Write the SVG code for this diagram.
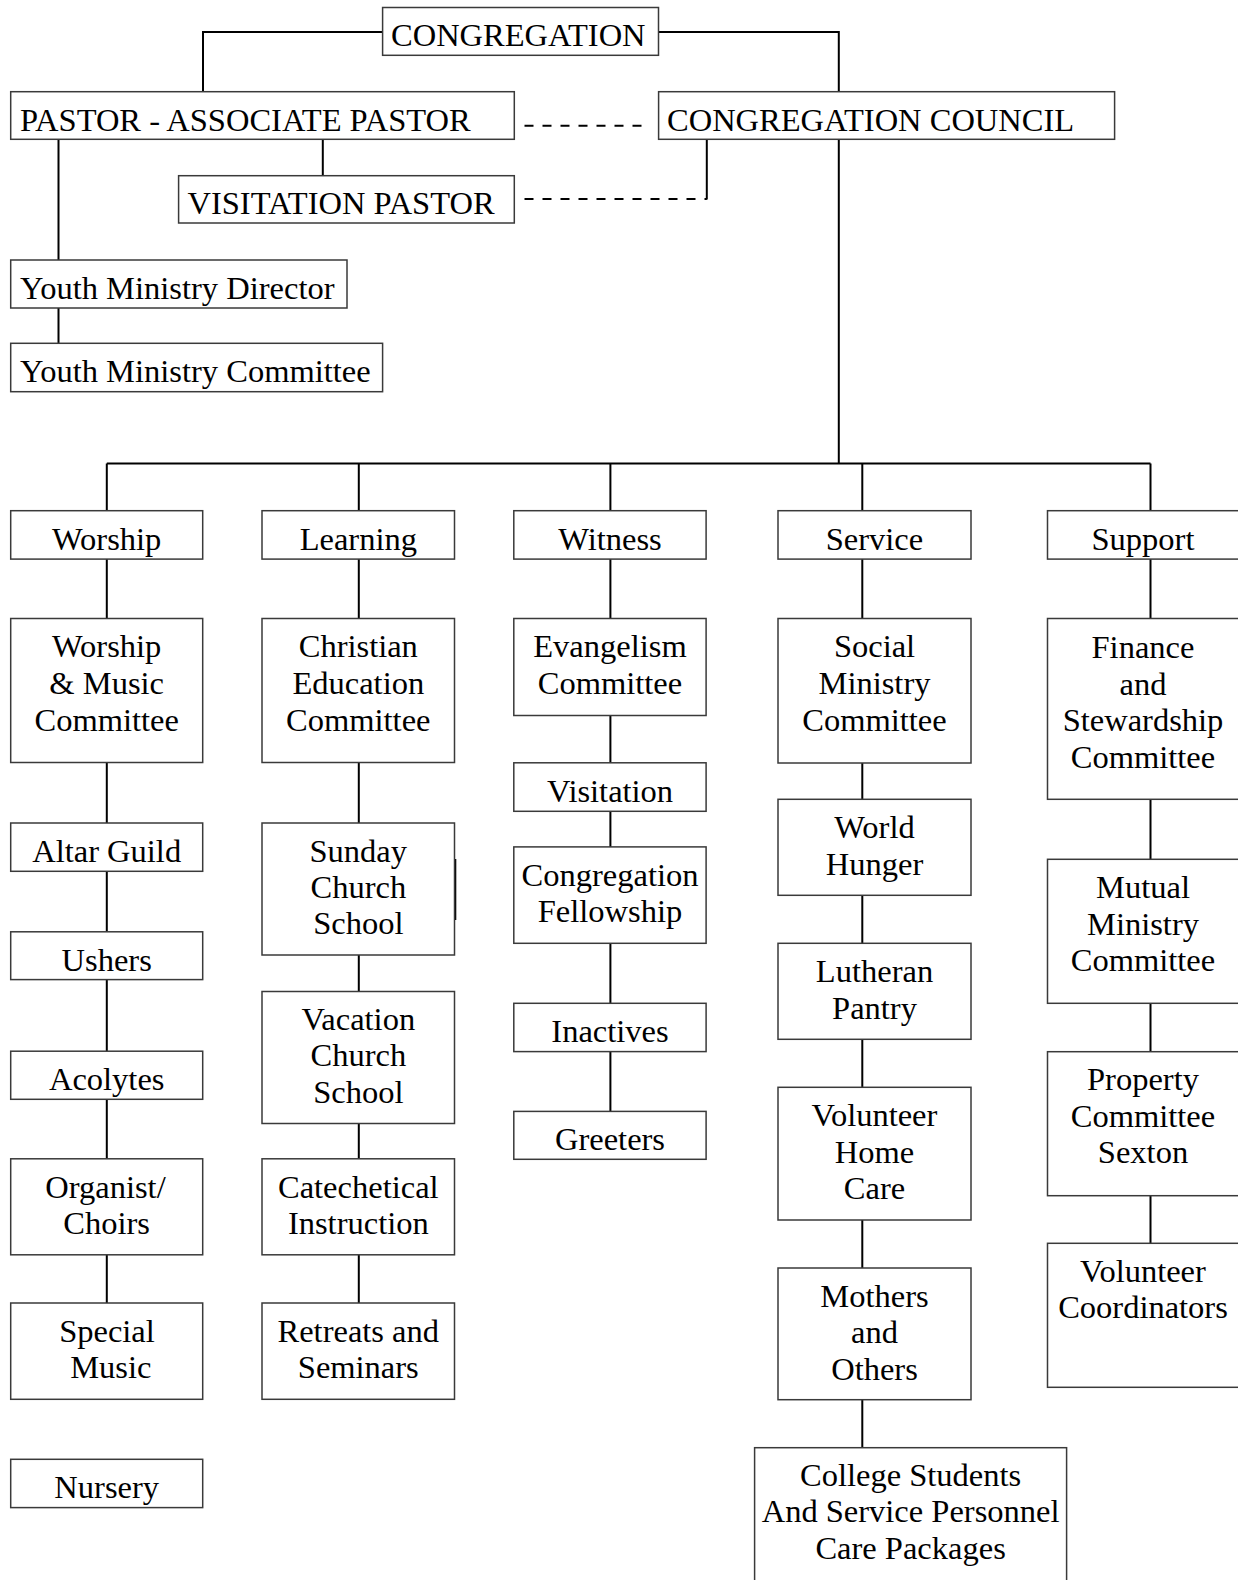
<svg xmlns="http://www.w3.org/2000/svg" width="1238" height="1580" viewBox="0 0 1238 1580">
<style>
.box{fill:#fff;stroke:#3a3a3a;stroke-width:1.5}
.t{font-family:"Liberation Serif","Times New Roman",serif;font-size:32.5px;fill:#000}
.c{text-anchor:middle}
.ln{fill:none;stroke:#000;stroke-width:2}
.dash{fill:none;stroke:#000;stroke-width:2;stroke-dasharray:9 9}
</style>
<rect width="1238" height="1580" fill="#fff"/>
<g id="connectors">
<polyline class="ln" points="382.6,32 203,32 203,91.7"/>
<polyline class="ln" points="658.5,32 838.8,32 838.8,91.7"/>
<line class="ln" x1="838.8" y1="139.3" x2="838.8" y2="463.5"/>
<line class="ln" x1="106.8" y1="463.5" x2="1150.5" y2="463.5"/>
<line class="ln" x1="58.5" y1="139.3" x2="58.5" y2="260"/>
<line class="ln" x1="322.8" y1="139.3" x2="322.8" y2="175.7"/>
<line class="ln" x1="58.5" y1="308" x2="58.5" y2="343.3"/>
<line class="ln" x1="706.8" y1="139.3" x2="706.8" y2="199.5"/>
<line class="dash" x1="524.5" y1="125.7" x2="645" y2="125.7"/>
<line class="dash" x1="524.5" y1="199" x2="706.8" y2="199"/>
<path class="ln" d="M106.8 463.5V510.7M106.8 559.1V618.5M106.8 762.5V823M106.8 871.3V931.8M106.8 979.6V1051.2M106.8 1099.3V1158.8M106.8 1254.8V1303"/>
<path class="ln" d="M358.8 463.5V510.7M358.8 559.1V618.5M358.8 762.5V823M358.8 955V991.5M358.8 1123.5V1158.8M358.8 1254.8V1303"/>
<path class="ln" d="M610.4 463.5V510.7M610.4 559.1V618.5M610.4 715.5V762.8M610.4 811.3V846.9M610.4 943.3V1003.3M610.4 1051.6V1111.4"/>
<path class="ln" d="M862.3 463.5V510.7M862.3 559.1V618.5M862.3 763V799.3M862.3 895.3V943.3M862.3 1039.3V1087.3M862.3 1220V1268M862.3 1399.7V1447.7"/>
<path class="ln" d="M1150.5 463.5V510.7M1150.5 559.1V618.5M1150.5 799.3V859.3M1150.5 1003.3V1051.7M1150.5 1195.7V1243.3"/>
<line class="ln" x1="455.3" y1="859" x2="455.3" y2="920" stroke-width="1.5"/>
</g>
<g id="congregation"><rect class="box" x="382.6" y="7.5" width="275.9" height="47.8"/><text class="t" x="391" y="46">CONGREGATION</text></g>
<g id="pastor"><rect class="box" x="10.7" y="91.7" width="503.6" height="47.6"/><text class="t" x="20" y="130.5">PASTOR - ASSOCIATE PASTOR</text></g>
<g id="council"><rect class="box" x="658.6" y="91.7" width="456" height="47.6"/><text class="t" x="667" y="130.5">CONGREGATION COUNCIL</text></g>
<g id="visitation-pastor"><rect class="box" x="178.6" y="175.7" width="335.7" height="47.3"/><text class="t" x="187.5" y="214">VISITATION PASTOR</text></g>
<g id="youth-director"><rect class="box" x="10.7" y="260" width="336.3" height="48"/><text class="t" x="20" y="298.5">Youth Ministry Director</text></g>
<g id="youth-committee"><rect class="box" x="10.7" y="343.3" width="371.9" height="48.4"/><text class="t" x="20" y="382">Youth Ministry Committee</text></g>

<g id="worship"><rect class="box" x="10.7" y="510.7" width="192" height="48.4"/><text class="t c" x="106.7" y="550">Worship</text></g>
<g id="worship-music"><rect class="box" x="10.7" y="618.5" width="192" height="144"/><text class="t c" x="106.7" y="657.3">Worship<tspan x="106.7" dy="36.8">&amp; Music</tspan><tspan x="106.7" dy="36.8">Committee</tspan></text></g>
<g id="altar-guild"><rect class="box" x="10.7" y="823" width="192" height="48.3"/><text class="t c" x="106.7" y="861.7">Altar Guild</text></g>
<g id="ushers"><rect class="box" x="10.7" y="931.8" width="192" height="47.8"/><text class="t c" x="106.7" y="970.5">Ushers</text></g>
<g id="acolytes"><rect class="box" x="10.7" y="1051.2" width="192" height="48.1"/><text class="t c" x="106.7" y="1089.8">Acolytes</text></g>
<g id="organist"><rect class="box" x="10.7" y="1158.8" width="192" height="96"/><text class="t c" x="105.5" y="1197.5">Organist/<tspan x="106.7" dy="36.5">Choirs</tspan></text></g>
<g id="special-music"><rect class="box" x="10.7" y="1303" width="192" height="96.3"/><text class="t c" x="107" y="1341.7">Special<tspan x="110.8" dy="36.5">Music</tspan></text></g>
<g id="nursery"><rect class="box" x="10.7" y="1459.3" width="192" height="48.3"/><text class="t c" x="106.7" y="1497.8">Nursery</text></g>

<g id="learning"><rect class="box" x="262" y="510.7" width="192.5" height="48.4"/><text class="t c" x="358.3" y="550">Learning</text></g>
<g id="christian-education"><rect class="box" x="262" y="618.5" width="192.5" height="144"/><text class="t c" x="358.3" y="657.3">Christian<tspan x="358.3" dy="36.8">Education</tspan><tspan x="358.3" dy="36.8">Committee</tspan></text></g>
<g id="sunday-school"><rect class="box" x="262" y="823" width="192.5" height="132"/><text class="t c" x="358.3" y="861.7">Sunday<tspan x="358.3" dy="36.3">Church</tspan><tspan x="358.3" dy="36.3">School</tspan></text></g>
<g id="vacation-school"><rect class="box" x="262" y="991.5" width="192.5" height="132"/><text class="t c" x="358.3" y="1030">Vacation<tspan x="358.3" dy="36.3">Church</tspan><tspan x="358.3" dy="36.3">School</tspan></text></g>
<g id="catechetical"><rect class="box" x="262" y="1158.8" width="192.5" height="96"/><text class="t c" x="358.3" y="1197.5">Catechetical<tspan x="358.3" dy="36.5">Instruction</tspan></text></g>
<g id="retreats"><rect class="box" x="262" y="1303" width="192.5" height="96.3"/><text class="t c" x="358.3" y="1341.7">Retreats and<tspan x="358.3" dy="36.5">Seminars</tspan></text></g>

<g id="witness"><rect class="box" x="513.8" y="510.7" width="192.3" height="48.4"/><text class="t c" x="610" y="550">Witness</text></g>
<g id="evangelism"><rect class="box" x="513.8" y="618.5" width="192.3" height="97"/><text class="t c" x="610" y="657.3">Evangelism<tspan x="610" dy="36.5">Committee</tspan></text></g>
<g id="visitation"><rect class="box" x="513.8" y="762.8" width="192.3" height="48.5"/><text class="t c" x="610" y="801.5">Visitation</text></g>
<g id="fellowship"><rect class="box" x="513.8" y="846.9" width="192.3" height="96.4"/><text class="t c" x="610" y="885.5">Congregation<tspan x="610" dy="36">Fellowship</tspan></text></g>
<g id="inactives"><rect class="box" x="513.8" y="1003.3" width="192.3" height="48.3"/><text class="t c" x="610" y="1042">Inactives</text></g>
<g id="greeters"><rect class="box" x="513.8" y="1111.4" width="192.3" height="47.9"/><text class="t c" x="610" y="1150">Greeters</text></g>

<g id="service"><rect class="box" x="778" y="510.7" width="193" height="48.4"/><text class="t c" x="874.5" y="550">Service</text></g>
<g id="social-ministry"><rect class="box" x="778" y="618.5" width="193" height="144.5"/><text class="t c" x="874.5" y="657.3">Social<tspan x="874.5" dy="36.8">Ministry</tspan><tspan x="874.5" dy="36.8">Committee</tspan></text></g>
<g id="world-hunger"><rect class="box" x="778" y="799.3" width="193" height="96"/><text class="t c" x="874.5" y="838">World<tspan x="874.5" dy="36.5">Hunger</tspan></text></g>
<g id="lutheran-pantry"><rect class="box" x="778" y="943.3" width="193" height="96"/><text class="t c" x="874.5" y="982">Lutheran<tspan x="874.5" dy="36.5">Pantry</tspan></text></g>
<g id="home-care"><rect class="box" x="778" y="1087.3" width="193" height="132.7"/><text class="t c" x="874.5" y="1126">Volunteer<tspan x="874.5" dy="36.5">Home</tspan><tspan x="874.5" dy="36.5">Care</tspan></text></g>
<g id="mothers"><rect class="box" x="778" y="1268" width="193" height="131.7"/><text class="t c" x="874.5" y="1306.5">Mothers<tspan x="874.5" dy="36.5">and</tspan><tspan x="874.5" dy="36.5">Others</tspan></text></g>
<g id="college"><rect class="box" x="754.6" y="1447.7" width="312" height="140"/><text class="t c" x="910.6" y="1485.5">College Students<tspan x="910.6" dy="36.5">And Service Personnel</tspan><tspan x="910.6" dy="36.5">Care Packages</tspan></text></g>

<g id="support"><rect class="box" x="1047.5" y="510.7" width="192" height="48.4"/><text class="t c" x="1143" y="550">Support</text></g>
<g id="finance"><rect class="box" x="1047.5" y="618.5" width="192" height="180.8"/><text class="t c" x="1143" y="658">Finance<tspan x="1143" dy="36.5">and</tspan><tspan x="1143" dy="36.5">Stewardship</tspan><tspan x="1143" dy="36.5">Committee</tspan></text></g>
<g id="mutual-ministry"><rect class="box" x="1047.5" y="859.3" width="192" height="144"/><text class="t c" x="1143" y="898">Mutual<tspan x="1143" dy="36.5">Ministry</tspan><tspan x="1143" dy="36.5">Committee</tspan></text></g>
<g id="property"><rect class="box" x="1047.5" y="1051.7" width="192" height="144"/><text class="t c" x="1143" y="1090.3">Property<tspan x="1143" dy="36.5">Committee</tspan><tspan x="1143" dy="36.5">Sexton</tspan></text></g>
<g id="volunteer-coordinators"><rect class="box" x="1047.5" y="1243.3" width="192" height="144"/><text class="t c" x="1143" y="1281.7">Volunteer<tspan x="1143" dy="36.5">Coordinators</tspan></text></g>
</svg>
